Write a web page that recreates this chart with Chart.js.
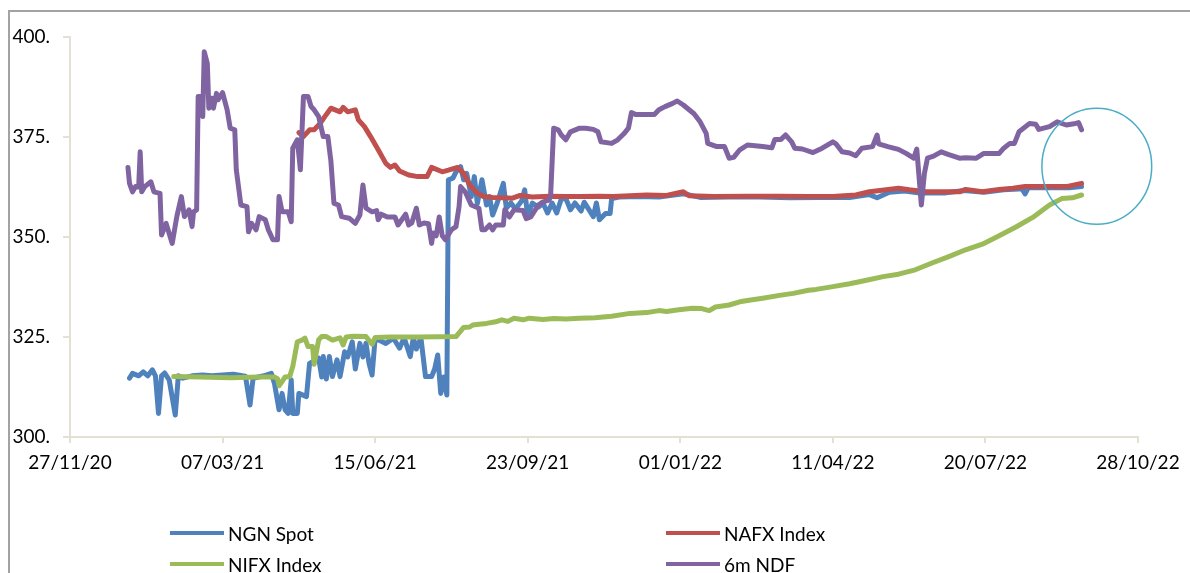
<!DOCTYPE html>
<html>
<head>
<meta charset="utf-8">
<script src="https://cdn.jsdelivr.net/npm/chart.js@4.4.0/dist/chart.umd.min.js"></script>
<style>
  body { margin: 0; background: #fff; }
  #wrap { position: relative; width: 1190px; height: 573px; overflow: hidden; background: #fff; }
  #frame { position: absolute; left: 8px; top: 10px; width: 1300px; height: 700px;
           border-left: 2px solid #a3a3a3; border-top: 2px solid #a3a3a3; pointer-events: none; }
  .lg { position: absolute; height: 22px; line-height: 22px; font: 19px Lato, sans-serif; color: #000;
        display: flex; align-items: center; white-space: nowrap; }
  .lg .sw { display: inline-block; width: 54px; height: 4px; margin-right: 4px; }
</style>
</head>
<body>
<div id="wrap">
  <canvas id="fx_chart" width="1190" height="573"></canvas>
  <div id="frame"></div>
  <div id="legend"></div>
</div>
<script>
// 6m NDF
const ndfDates = [
  "2021-01-04","2021-01-05","2021-01-07","2021-01-09","2021-01-11","2021-01-12","2021-01-13","2021-01-15",
  "2021-01-19","2021-01-21","2021-01-25","2021-01-26","2021-01-29","2021-02-02","2021-02-05","2021-02-08",
  "2021-02-10","2021-02-13","2021-02-15","2021-02-16","2021-02-18","2021-02-19","2021-02-21","2021-02-22",
  "2021-02-23","2021-02-25","2021-02-26","2021-02-28","2021-03-01","2021-03-03","2021-03-04","2021-03-07",
  "2021-03-10","2021-03-12","2021-03-15","2021-03-16","2021-03-19","2021-03-23","2021-03-24","2021-03-26",
  "2021-03-29","2021-03-31","2021-04-04","2021-04-06","2021-04-09","2021-04-12","2021-04-13","2021-04-15",
  "2021-04-19","2021-04-21","2021-04-22","2021-04-25","2021-04-27","2021-04-29","2021-05-02","2021-05-04",
  "2021-05-06","2021-05-09","2021-05-12","2021-05-15","2021-05-17","2021-05-19","2021-05-22","2021-05-24",
  "2021-05-29","2021-06-02","2021-06-05","2021-06-07","2021-06-09","2021-06-13","2021-06-16","2021-06-17",
  "2021-06-19","2021-06-23","2021-06-28","2021-06-30","2021-07-05","2021-07-07","2021-07-09","2021-07-12",
  "2021-07-14","2021-07-17","2021-07-20","2021-07-22","2021-07-23","2021-07-25","2021-07-27","2021-07-29",
  "2021-07-31","2021-08-04","2021-08-07","2021-08-09","2021-08-10","2021-08-13","2021-08-17","2021-08-22",
  "2021-08-24","2021-08-26","2021-08-29","2021-08-31","2021-09-02","2021-09-07","2021-09-08","2021-09-11",
  "2021-09-14","2021-09-20","2021-09-22","2021-09-25","2021-09-30","2021-10-03","2021-10-07","2021-10-08",
  "2021-10-10","2021-10-13","2021-10-15","2021-10-18","2021-10-21","2021-10-27","2021-10-31","2021-11-05",
  "2021-11-08","2021-11-10","2021-11-17","2021-11-21","2021-11-25","2021-11-28","2021-11-30","2021-12-03",
  "2021-12-15","2021-12-18","2021-12-22","2021-12-27","2021-12-30","2022-01-03","2022-01-10","2022-01-14",
  "2022-01-18","2022-01-19","2022-01-25","2022-01-30","2022-02-02","2022-02-05","2022-02-09","2022-02-14",
  "2022-02-24","2022-03-02","2022-03-04","2022-03-08","2022-03-11","2022-03-15","2022-03-17","2022-03-22",
  "2022-03-29","2022-04-04","2022-04-11","2022-04-13","2022-04-17","2022-04-22","2022-04-26","2022-04-30",
  "2022-05-07","2022-05-10","2022-05-11","2022-05-17","2022-05-24","2022-05-29","2022-06-03","2022-06-05",
  "2022-06-08","2022-06-10","2022-06-12","2022-06-16","2022-06-21","2022-06-26","2022-07-03","2022-07-07",
  "2022-07-14","2022-07-19","2022-07-29","2022-08-01","2022-08-05","2022-08-08","2022-08-11","2022-08-18",
  "2022-08-22","2022-08-24","2022-08-31","2022-09-05","2022-09-11","2022-09-16","2022-09-19","2022-09-21"
];
const ndfValues = [
  367.4,363.4,361.3,362.6,362.5,371.3,361.3,362.6,
  363.8,361.3,360.9,350.5,353.4,348.4,355.1,360.1,
  355.1,356.8,352.6,356.3,356.8,385.1,385.1,380.1,
  396.3,393.4,382.2,384.7,382.2,385.9,384.3,386.1,
  381.8,377.2,376.8,366.8,358,357.6,351.3,353.4,
  351.8,355.1,354.3,351.8,349.3,349.3,360.1,356.3,
  356.3,353.8,372.2,374.3,366.8,385.1,385.1,382.6,
  381.8,380.1,375.1,375.1,369,358.4,358,355.1,
  354.7,353.4,355.5,363,357.2,356.3,356.6,354.3,
  355.7,355,355,353,355.7,353,353.5,357.2,
  353,353.5,353.3,348.4,351,350.3,355,350.3,
  349.3,351.8,352.6,357.6,362.6,361.3,358,357.2,
  351.8,351.8,353,351.8,353,353,356.8,355,
  356.8,356.6,354.6,355,358,358.8,359.2,360.2,
  377.2,376.8,375.5,374.3,376.3,377.2,377.2,376.9,
  376.3,373.8,373.4,374.3,375.8,377.2,381.1,380.6,
  380.6,381.8,382.6,383.4,384,383,380.8,378.8,
  375.9,373.4,372.6,372.6,369.7,369.9,371.8,373,
  372.6,372.3,374.4,374.4,375.5,373.8,372.2,372,
  371.1,372.2,373.8,373.3,371.3,371,370.3,372.2,
  372.6,375.5,373.3,372.6,371.9,370.9,369.7,372,
  358,365.9,369.7,370.2,371.3,370.6,369.7,369.8,
  369.7,370.9,370.9,372.2,373.4,373.4,376.3,378.4,
  378.2,376.9,377.6,378.8,378,378.3,378.6,376.8
];

// NAFX Index
const nafxDates = [
  "2021-04-26","2021-04-29","2021-05-03","2021-05-06","2021-05-10","2021-05-13",
  "2021-05-17","2021-05-23","2021-05-25","2021-05-28","2021-06-02","2021-06-04",
  "2021-06-08","2021-06-12","2021-06-17","2021-06-22","2021-06-25","2021-06-28",
  "2021-07-01","2021-07-07","2021-07-13","2021-07-19","2021-07-22","2021-07-29",
  "2021-08-02","2021-08-08","2021-08-12","2021-08-16","2021-08-20","2021-08-25",
  "2021-08-31","2021-09-07","2021-09-13","2021-09-18","2021-09-26","2021-10-07",
  "2021-10-18","2021-10-27","2021-11-09","2021-11-18","2021-11-29","2021-12-10",
  "2021-12-23","2022-01-03","2022-01-07","2022-01-23","2022-02-14","2022-03-07",
  "2022-03-26","2022-04-11","2022-04-26","2022-05-05","2022-05-16","2022-05-24",
  "2022-05-31","2022-06-11","2022-06-22","2022-07-03","2022-07-07","2022-07-18",
  "2022-07-29","2022-08-07","2022-08-15","2022-08-29","2022-09-11","2022-09-21"
];
const nafxValues = [
  376.1,375.1,376.8,376.8,378.4,380.1,
  382.2,381.3,382.4,381.3,381.8,379.3,
  377.6,375.1,371.8,368.4,367.4,368,
  366.5,365.5,365.1,365.1,367.4,366.3,
  366.7,367.4,365.9,363,361.3,360.1,
  359.9,359.8,359.7,360.4,360,360.2,
  360.1,360.1,360.2,360.1,360.3,360.5,
  360.4,361.3,360.3,360.1,360.2,360.2,
  360.1,360.1,360.5,361.3,361.8,362.2,
  361.8,361.3,361.3,361.3,361.9,361.3,
  361.9,362.2,362.6,362.6,362.6,363.4
];

// NGN Spot
const ngnDates = [
  "2021-01-05","2021-01-07","2021-01-11","2021-01-14","2021-01-17","2021-01-20","2021-01-22","2021-01-24","2021-01-26",
  "2021-01-28","2021-01-31","2021-02-04","2021-02-06","2021-02-09","2021-02-15","2021-02-22","2021-02-28","2021-03-07",
  "2021-03-14","2021-03-20","2021-03-22","2021-03-25","2021-03-27","2021-04-03","2021-04-08","2021-04-10","2021-04-13",
  "2021-04-15","2021-04-17","2021-04-19","2021-04-21","2021-04-22","2021-04-25","2021-04-26","2021-05-01","2021-05-03",
  "2021-05-05","2021-05-09","2021-05-11","2021-05-12","2021-05-14","2021-05-16","2021-05-18","2021-05-21","2021-05-23",
  "2021-05-26","2021-05-28","2021-05-31","2021-06-02","2021-06-05","2021-06-07","2021-06-09","2021-06-11","2021-06-13",
  "2021-06-15","2021-06-22","2021-06-27","2021-07-01","2021-07-04","2021-07-08","2021-07-10","2021-07-12","2021-07-15",
  "2021-07-18","2021-07-22","2021-07-24","2021-07-26","2021-07-28","2021-07-30","2021-08-01","2021-08-02","2021-08-05",
  "2021-08-07","2021-08-10","2021-08-12","2021-08-14","2021-08-17","2021-08-19","2021-08-21","2021-08-24","2021-08-27",
  "2021-08-29","2021-08-31","2021-09-03","2021-09-07","2021-09-09","2021-09-12","2021-09-15","2021-09-19","2021-09-21",
  "2021-09-23","2021-09-26","2021-09-30","2021-10-03","2021-10-06","2021-10-09","2021-10-12","2021-10-15","2021-10-18",
  "2021-10-21","2021-10-24","2021-10-28","2021-10-30","2021-11-05","2021-11-07","2021-11-09","2021-11-13","2021-11-16",
  "2021-11-17","2021-11-22","2021-12-05","2021-12-18","2022-01-03","2022-01-14","2022-02-02","2022-02-22","2022-03-14",
  "2022-04-02","2022-04-22","2022-05-05","2022-05-10","2022-05-18","2022-05-28","2022-06-07","2022-06-23","2022-07-06",
  "2022-07-19","2022-08-01","2022-08-11","2022-08-13","2022-08-15","2022-08-17","2022-08-31","2022-09-13","2022-09-21"
];
const ngnValues = [
  314.7,315.9,315.3,316.3,315.3,316.8,315.3,305.9,315.3,
  316,314.3,305.5,315.3,314.7,315.3,315.5,315.3,315.5,
  315.7,315.3,315.2,308,314.7,315.3,315.9,313.4,306.8,
  310.9,306.8,305.9,314.3,305.9,305.9,310.9,310.1,318.4,
  318.8,319.7,315,320.1,314.5,320.1,315.1,319.3,315.1,
  321.3,320,323.8,317,323.4,320,323.4,318.4,315.5,
  324.7,323.4,324.7,322.2,324.8,320.1,324.8,322,324.8,
  315.1,315.1,317,320.5,310.9,315,310.5,364.3,364.7,
  366.3,367.6,364.3,365.9,360.1,365.1,358.4,364.3,358,
  360.1,355.5,358.5,363.4,357.2,358.5,357,359,361.8,
  355.1,358.5,357.5,358.5,356,358.5,356,359.5,359.6,
  356.8,358.5,356.5,358.7,355.1,358.5,354.3,355.9,355.9,
  359.6,360,360.1,360,360.8,359.9,360,360,359.8,
  359.9,359.9,360.6,359.8,361.2,361.5,361,361,361.6,
  361.2,361.8,362,362,360.8,362.3,362.4,362.3,362.6
];

// NIFX Index
const nifxDates = [
  "2021-02-03","2021-02-20","2021-03-12","2021-03-31","2021-04-10","2021-04-12","2021-04-13","2021-04-17","2021-04-20",
  "2021-04-22","2021-04-25","2021-04-28","2021-04-30","2021-05-02","2021-05-05","2021-05-06","2021-05-09","2021-05-11",
  "2021-05-14","2021-05-18","2021-05-23","2021-05-25","2021-05-27","2021-06-01","2021-06-09","2021-06-13","2021-06-15",
  "2021-06-25","2021-07-14","2021-08-07","2021-08-12","2021-08-16","2021-08-18","2021-08-22","2021-08-27","2021-09-02",
  "2021-09-06","2021-09-10","2021-09-14","2021-09-20","2021-09-24","2021-10-03","2021-10-10","2021-10-18","2021-10-27",
  "2021-11-06","2021-11-17","2021-11-29","2021-12-10","2021-12-18","2021-12-23","2021-12-31","2022-01-09","2022-01-15",
  "2022-01-20","2022-01-24","2022-02-02","2022-02-09","2022-02-15","2022-02-24","2022-03-07","2022-03-16","2022-03-26",
  "2022-03-31","2022-04-11","2022-04-22","2022-05-03","2022-05-14","2022-05-24","2022-06-04","2022-06-15","2022-06-26",
  "2022-07-07","2022-07-18","2022-07-29","2022-08-09","2022-08-20","2022-08-31","2022-09-08","2022-09-15","2022-09-21"
];
const nifxValues = [
  315.1,315,314.8,315,315,314.6,312.8,315,315.1,
  317.6,323.8,324.2,324.7,322.6,322.6,318.2,324.3,325.1,
  325.1,324.2,324.8,323,325,325.2,325.1,323.2,324.9,
  325,325,325.1,327.4,327.5,328,328.2,328.4,328.8,
  329.3,328.9,329.7,329.3,329.7,329.4,329.6,329.5,329.7,
  329.8,330.2,330.9,331.1,331.6,331.4,331.8,332.2,332.1,
  331.6,332.5,333,333.8,334.2,334.7,335.4,335.9,336.7,
  336.9,337.6,338.3,339.2,340.1,340.7,341.8,343.5,345.1,
  346.8,348.2,350.3,352.5,354.9,358,359.6,359.8,360.5
];

const seriesNames = ["NGN Spot", "NAFX Index", "NIFX Index", "6m NDF"];
const seriesColors = ["#4F81BD", "#C0504D", "#9BBB59", "#8064A2"];

const axisStart = "2020-11-27";
const axisDays = 700;
const yTicks = [300, 325, 350, 375, 400];

// highlight ring round the latest readings
const ringCenter = ["2022-10-01", 367.7];
const ringRadius = [36, 14.5]; // days, naira

function toDay(s) {
  return Date.UTC(+s.slice(0, 4), +s.slice(5, 7) - 1, +s.slice(8, 10)) / 86400000;
}
function points(dates, values) {
  return dates.map((d, i) => ({ x: toDay(d), y: values[i] }));
}
function formatDay(v) {
  const d = new Date(Math.round(v) * 86400000);
  const p = n => String(n).padStart(2, "0");
  return p(d.getUTCDate()) + "/" + p(d.getUTCMonth() + 1) + "/" + p(d.getUTCFullYear() % 100);
}

const allData = [points(ngnDates, ngnValues), points(nafxDates, nafxValues),
                 points(nifxDates, nifxValues), points(ndfDates, ndfValues)];
const drawOrder = [3, 2, 1, 0];

const ringPlugin = {
  id: "ring",
  afterDatasetsDraw(chart) {
    const { ctx, scales } = chart;
    const cd = toDay(ringCenter[0]);
    const cx = scales.x.getPixelForValue(cd);
    const cy = scales.y.getPixelForValue(ringCenter[1]);
    const rx = scales.x.getPixelForValue(cd + ringRadius[0]) - cx;
    const ry = scales.y.getPixelForValue(ringCenter[1] - ringRadius[1]) - cy;
    ctx.save();
    ctx.strokeStyle = "#4BACC6";
    ctx.lineWidth = 1.5;
    ctx.beginPath();
    ctx.ellipse(cx, cy, rx, ry, 0, 0, Math.PI * 2);
    ctx.stroke();
    ctx.restore();
  },
};

Chart.defaults.font.family = "Lato, sans-serif";
Chart.defaults.font.size = 19;
Chart.defaults.color = "#000";

const axisColor = "#e4e0d4";

new Chart(document.getElementById("fx_chart"), {
  type: "line",
  data: {
    datasets: seriesNames.map((name, i) => ({
      label: name,
      data: allData[i],
      borderColor: seriesColors[i],
      backgroundColor: seriesColors[i],
      borderWidth: 5,
      borderJoinStyle: "round",
      borderCapStyle: "round",
      pointRadius: 0,
      tension: 0,
      order: drawOrder[i],
    })),
  },
  options: {
    responsive: false,
    animation: false,
    layout: { padding: { top: 37, right: 52, bottom: 0, left: 0 } },
    scales: {
      x: {
        type: "linear",
        min: toDay(axisStart),
        max: toDay(axisStart) + axisDays,
        afterFit: (s) => { s.height = 136; },
        ticks: { stepSize: 100, maxRotation: 0, autoSkip: false, padding: 8, callback: formatDay },
        grid: { drawOnChartArea: false, tickLength: 6, color: axisColor, lineWidth: 2 },
        border: { color: axisColor, width: 2 },
      },
      y: {
        min: yTicks[0],
        max: yTicks[yTicks.length - 1],
        afterFit: (s) => { s.width = 70; },
        ticks: { stepSize: 25, padding: 13, callback: (v) => v + "." },
        grid: { drawOnChartArea: false, tickLength: 7, color: axisColor, lineWidth: 2 },
        border: { color: axisColor, width: 2 },
      },
    },
    plugins: { legend: { display: false }, tooltip: { enabled: false } },
  },
  plugins: [ringPlugin],
});

// legend, two columns like the original
const legendPos = [[170, 522], [666, 522], [170, 553], [666, 553]];
const legend = document.getElementById("legend");
seriesNames.forEach((name, i) => {
  const el = document.createElement("div");
  el.className = "lg";
  el.style.left = legendPos[i][0] + "px";
  el.style.top = legendPos[i][1] + "px";
  el.innerHTML = '<span class="sw" style="background:' + seriesColors[i] + '"></span>' + name;
  legend.appendChild(el);
});
</script>
</body>
</html>
